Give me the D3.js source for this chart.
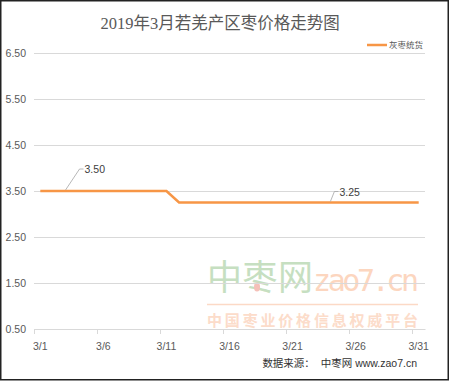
<!DOCTYPE html>
<html>
<head>
<meta charset="utf-8">
<script src="https://cdn.jsdelivr.net/npm/d3@7"></script>
<style>
  body { margin: 0; background: #fff; }
  svg { display: block; }
</style>
</head>
<body>
<script>
// categories and values
const days = ['3/1', '3/2', '3/3', '3/4', '3/5', '3/6', '3/7', '3/8', '3/9', '3/10',
  '3/11', '3/12', '3/13', '3/14', '3/15', '3/16', '3/17', '3/18', '3/19', '3/20',
  '3/21', '3/22', '3/23', '3/24', '3/25', '3/26', '3/27', '3/28', '3/29', '3/30', '3/31']
const prices = [3.50, 3.50, 3.50, 3.50, 3.50, 3.50, 3.50, 3.50, 3.50, 3.50,
  3.50, 3.25, 3.25, 3.25, 3.25, 3.25, 3.25, 3.25, 3.25, 3.25,
  3.25, 3.25, 3.25, 3.25, 3.25, 3.25, 3.25, 3.25, 3.25, 3.25, 3.25]
const yTicks = [0.5, 1.5, 2.5, 3.5, 4.5, 5.5, 6.5]
const xTickLabels = ['3/1', '3/6', '3/11', '3/16', '3/21', '3/26', '3/31']
const seriesName = '灰枣统货'
const labelled = [2, 23] // points that carry a data label

const W = 452, H = 382
const margin = { top: 53, left: 34, right: 27, bottom: 53 }
const width = W - margin.left - margin.right
const height = H - margin.top - margin.bottom
const orange = '#f79646'
const grey = '#595959'

const svg = d3.select('body')
  .append('svg')
  .attr('width', W)
  .attr('height', H)

// frame
svg.append('rect')
  .attr('x', 0.75).attr('y', 0.75)
  .attr('width', 447.5).attr('height', 379)
  .attr('fill', '#fff')
  .attr('stroke', '#222')
  .attr('stroke-width', 1.5)

svg.append('text')
  .attr('x', 220).attr('y', 29)
  .attr('text-anchor', 'middle')
  .attr('font-family', '"Liberation Serif", "Noto Sans CJK SC", serif')
  .attr('font-size', 16.5)
  .attr('fill', grey)
  .text('2019年3月若羌产区枣价格走势图')

const g = svg.append('g')
  .attr('transform', `translate(${margin.left}, ${margin.top})`)

const x = d3.scaleBand().domain(days).range([0, width]).padding(0)
const y = d3.scaleLinear().domain([0.5, 6.5]).range([height, 0])

// watermark
const wm = g.append('g').attr('transform', `translate(${207 - margin.left}, 0)`)
wm.append('text')
  .attr('x', 0).attr('y', 290 - margin.top)
  .attr('font-family', '"Noto Sans CJK SC", sans-serif')
  .attr('font-size', 35)
  .attr('textLength', 106)
  .attr('fill', '#c6dfc1')
  .text('中枣网')
wm.append('text')
  .attr('x', 106).attr('y', 291 - margin.top)
  .attr('font-family', '"DejaVu Sans Mono", monospace')
  .attr('font-size', 30)
  .attr('textLength', 106)
  .attr('fill', '#fcd6bf')
  .text('zao7.cn')
wm.append('ellipse')
  .attr('cx', 50).attr('cy', 287 - margin.top)
  .attr('rx', 3).attr('ry', 4.5)
  .attr('fill', '#f5c0b8')
wm.append('line')
  .attr('x1', 0).attr('x2', 211)
  .attr('y1', 304.5 - margin.top).attr('y2', 304.5 - margin.top)
  .attr('stroke', '#fcd9c6').attr('stroke-width', 1.5)
wm.append('text')
  .attr('x', 0).attr('y', 326 - margin.top)
  .attr('font-family', '"Noto Sans CJK SC", sans-serif')
  .attr('font-size', 15)
  .attr('font-weight', 'bold')
  .attr('textLength', 211)
  .attr('fill', '#fcdcca')
  .text('中国枣业价格信息权威平台')

// gridlines and y labels
const yAxis = d3.axisLeft(y)
  .tickValues(yTicks)
  .tickSize(-width)
  .tickPadding(8)
  .tickFormat(d3.format('.2f'))

g.append('g')
  .call(yAxis)
  .call(a => a.select('.domain').remove())
  .call(a => a.selectAll('line').attr('stroke', '#d9d9d9'))
  .call(a => a.selectAll('text')
    .attr('fill', grey)
    .attr('font-family', '"Liberation Sans", sans-serif')
    .attr('font-size', 10.5))

// x axis: labels on category centres, tick marks on category edges
const xAxis = d3.axisBottom(x)
  .tickValues(xTickLabels)
  .tickSize(0)
  .tickPadding(14)

g.append('g')
  .attr('transform', `translate(0, ${height})`)
  .call(xAxis)
  .call(a => a.select('.domain').attr('stroke', '#d9d9d9'))
  .call(a => a.selectAll('text')
    .attr('fill', grey)
    .attr('font-family', '"Liberation Sans", sans-serif')
    .attr('font-size', 10.5))

g.append('g')
  .selectAll('line')
  .data(xTickLabels)
  .enter()
  .append('line')
  .attr('x1', d => Math.round(x(d)) + 0.5)
  .attr('x2', d => Math.round(x(d)) + 0.5)
  .attr('y1', height)
  .attr('y2', height + 5)
  .attr('stroke', '#d9d9d9')

// series line
const line = d3.line()
  .x((d, i) => x(days[i]) + x.bandwidth() / 2)
  .y(d => y(d))

g.append('path')
  .datum(prices)
  .attr('d', line)
  .attr('fill', 'none')
  .attr('stroke', orange)
  .attr('stroke-width', 2.5)

// data labels with leader lines
const offsets = { 2: [14, -22], 23: [4, -11] }
labelled.forEach(i => {
  const px = x(days[i]) + x.bandwidth() / 2
  const py = y(prices[i])
  const [dx, dy] = offsets[i]
  g.append('polyline')
    .attr('points', `${px},${py - 1} ${px + dx},${py + dy} ${px + dx + 4},${py + dy}`)
    .attr('fill', 'none')
    .attr('stroke', '#a6a6a6')
    .attr('stroke-width', 0.8)
  g.append('text')
    .attr('x', px + dx + 5)
    .attr('y', py + dy + 4)
    .attr('font-family', '"Liberation Sans", sans-serif')
    .attr('font-size', 10.5)
    .attr('fill', '#404040')
    .text(d3.format('.2f')(prices[i]))
})

// legend
const lg = svg.append('g').attr('transform', 'translate(367, 45)')
lg.append('line')
  .attr('x1', 0).attr('x2', 20)
  .attr('stroke', orange)
  .attr('stroke-width', 2.5)
lg.append('text')
  .attr('x', 22).attr('y', 3)
  .attr('font-family', '"Noto Sans CJK SC", sans-serif')
  .attr('font-size', 8.5)
  .attr('fill', grey)
  .text(seriesName)

// source
svg.append('text')
  .attr('x', 417).attr('y', 367)
  .attr('text-anchor', 'end')
  .attr('font-family', '"Liberation Sans", "Noto Sans CJK SC", sans-serif')
  .attr('font-size', 10.5)
  .attr('fill', '#333')
  .attr('xml:space', 'preserve')
  .text('数据来源：  中枣网 www.zao7.cn')
</script>
</body>
</html>
